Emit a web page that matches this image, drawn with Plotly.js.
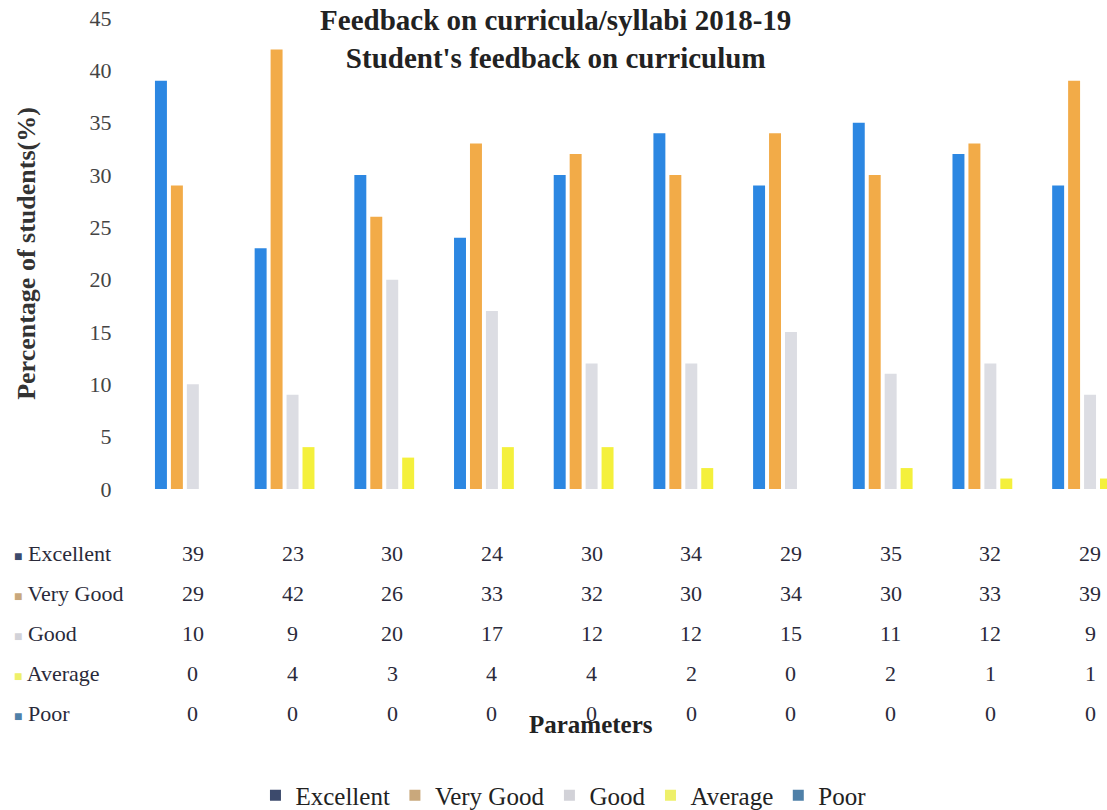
<!DOCTYPE html>
<html>
<head>
<meta charset="utf-8">
<script src="https://cdn.plot.ly/plotly-3.0.1.min.js"></script>
<style>html,body{margin:0;padding:0;background:#fff;}#chart{width:1107px;height:810px;}</style>
</head>
<body>
<div id="chart"></div>
<script>
// Data
const categories = ['P1','P2','P3','P4','P5','P6','P7','P8','P9','P10'];
const seriesNames = ['Excellent','Very Good','Good','Average','Poor'];
const excellent = [39, 23, 30, 24, 30, 34, 29, 35, 32, 29];
const veryGood  = [29, 42, 26, 33, 32, 30, 34, 30, 33, 39];
const good      = [10,  9, 20, 17, 12, 12, 15, 11, 12,  9];
const average   = [ 0,  4,  3,  4,  4,  2,  0,  2,  1,  1];
const poor      = [ 0,  0,  0,  0,  0,  0,  0,  0,  0,  0];
const yTickVals = [0, 5, 10, 15, 20, 25, 30, 35, 40, 45];

const seriesValues = [excellent, veryGood, good, average, poor];
const barColors = ['#2c87e2', '#f2ab48', '#dcdde3', '#f4f03c', '#4a86b8'];
const keyColors = ['#3c4a6c', '#c9a87c', '#d2d2d8', '#eef06a', '#4f80a8'];

const serif = 'Liberation Serif, Times New Roman, serif';

const traces = [];
seriesNames.forEach((name, i) => {
  traces.push({
    type: 'bar',
    name: name,
    legendgroup: name,
    showlegend: false,
    x: categories,
    y: seriesValues[i],
    marker: {color: barColors[i]},
    hoverinfo: 'y+name'
  });
});
// legend keys (the scanned legend squares are darker than the bars)
seriesNames.forEach((name, i) => {
  traces.push({
    type: 'scatter',
    mode: 'markers',
    name: name,
    legendgroup: name,
    showlegend: true,
    x: [null],
    y: [null],
    marker: {color: keyColors[i], symbol: 'square', size: 11},
    hoverinfo: 'skip'
  });
});

// geometry helpers (plot area: left 143, right 1107, top 18, bottom 489)
const plotTop = 18, plotBottom = 489, plotLeft = 143, plotW = 964;
const plotH = plotBottom - plotTop;
const py = p => (plotBottom - p) / plotH;
const px = p => (p - plotLeft) / plotW;

const rowY = [553, 593, 633, 673, 713];
const annotations = [];
seriesNames.forEach((name, r) => {
  annotations.push({
    xref: 'paper', yref: 'paper', x: px(12), y: py(rowY[r]),
    xanchor: 'left', yanchor: 'middle', showarrow: false,
    text: '<span style="color:' + keyColors[r] + ';font-size:14px">■</span> ' + name,
    font: {family: serif, size: 22, color: '#2a2a3a'}
  });
  categories.forEach((c, j) => {
    annotations.push({
      xref: 'x', yref: 'paper', x: j, y: py(rowY[r]),
      xanchor: 'center', yanchor: 'middle', showarrow: false,
      text: String(seriesValues[r][j]),
      font: {family: serif, size: 22, color: '#2a2a3a'}
    });
  });
});
annotations.push({
  xref: 'paper', yref: 'paper', x: px(591), y: py(724),
  xanchor: 'center', yanchor: 'middle', showarrow: false,
  text: '<b>Parameters</b>',
  font: {family: serif, size: 25, color: '#222'}
});

const layout = {
  width: 1107, height: 810,
  paper_bgcolor: '#ffffff', plot_bgcolor: '#ffffff',
  margin: {l: plotLeft, r: 0, t: plotTop, b: 810 - plotBottom, pad: 0},
  title: {
    text: '<b>Feedback on curricula/syllabi 2018-19<br>Student\'s feedback on curriculum</b>',
    font: {family: serif, size: 29, color: '#222'},
    xref: 'container', x: 0.502, xanchor: 'center',
    yref: 'container', y: 1 - 30 / 810, yanchor: 'middle'
  },
  barmode: 'group',
  bargap: 0.2,
  bargroupgap: 0.25,
  xaxis: {
    type: 'category',
    range: [-0.5, 9.17],
    showticklabels: false,
    showgrid: false, zeroline: false, showline: false, ticks: ''
  },
  yaxis: {
    range: [0, 45],
    tickvals: yTickVals,
    ticktext: yTickVals.map(String),
    showgrid: false, zeroline: false, showline: false,
    ticks: 'outside', ticklen: 26, tickcolor: 'rgba(0,0,0,0)',
    tickfont: {family: serif, size: 22, color: '#444'},
    title: {
      text: '<b>Percentage of students(%)</b>',
      font: {family: serif, size: 26, color: '#333'},
      standoff: 46
    }
  },
  showlegend: true,
  legend: {
    orientation: 'h',
    xref: 'container', x: 0.509, xanchor: 'center',
    yref: 'container', y: 0.018, yanchor: 'middle',
    font: {family: serif, size: 25, color: '#222'},
    itemwidth: 30,
    traceorder: 'normal'
  },
  annotations: annotations
};

Plotly.newPlot('chart', traces, layout, {displayModeBar: false, responsive: false});
</script>
</body>
</html>
